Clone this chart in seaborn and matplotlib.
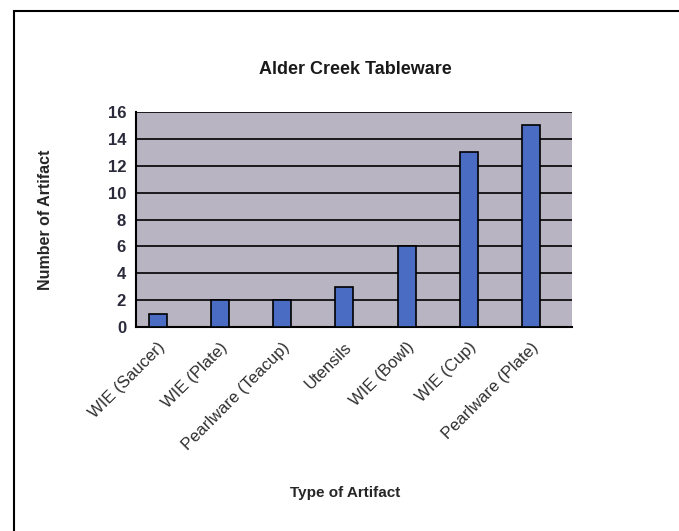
import pandas as pd
import seaborn as sns
import matplotlib.pyplot as plt
from matplotlib.patches import Rectangle
from matplotlib.ticker import FixedLocator

# Data
artifact_types = ["WIE (Saucer)", "WIE (Plate)", "Pearlware (Teacup)", "Utensils",
                  "WIE (Bowl)", "WIE (Cup)", "Pearlware (Plate)"]
counts = [1, 2, 2, 3, 6, 13, 15]

df = pd.DataFrame({"Type": artifact_types, "Count": counts})

sns.set_style("white")
plt.rcParams["font.family"] = ["Liberation Sans", "DejaVu Sans"]

fig = plt.figure(figsize=(6.79, 5.31), dpi=100)
ax = fig.add_axes([0.2, 0.384, 0.642, 0.405])

sns.barplot(data=df, x="Type", y="Count", color="#4a6cc2", width=0.29,
            edgecolor="black", linewidth=1.2, saturation=1, ax=ax, zorder=3)

ax.set_facecolor("#b8b4c2")
ax.set_ylim(0, 16)
ax.set_yticks(range(0, 17, 2))
ax.set_xlim(-0.35, 6.65)
ax.yaxis.grid(True, color="black", linewidth=1.2, zorder=0)
ax.set_axisbelow(True)

for side in ["top", "right"]:
    ax.spines[side].set_visible(False)
for side in ["left", "bottom"]:
    ax.spines[side].set_linewidth(1.5)
    ax.spines[side].set_color("black")

# category boundary ticks, labels under the bars
ax.xaxis.set_minor_locator(FixedLocator([i - 0.35 for i in range(8)]))
ax.tick_params(axis="x", which="major", length=0, pad=9)
ax.tick_params(axis="x", which="minor", length=5, width=1.2, direction="out", color="black")
ax.tick_params(axis="y", length=5, width=1.2, direction="out", color="black", pad=2)

ax.set_xticks(range(len(artifact_types)))
ax.set_xticklabels(artifact_types, rotation=45, ha="right", rotation_mode="anchor",
                   fontsize=12, color="#2e2e2e")
for lbl in ax.get_yticklabels():
    lbl.set_fontsize(12)
    lbl.set_fontweight("bold")
    lbl.set_color("#2a2a3a")

ax.set_xlabel("Type of Artifact", fontsize=11, fontweight="bold")
ax.set_ylabel("Number of Artifact", fontsize=11.5, fontweight="bold")
ax.xaxis.set_label_coords(0.48, -0.74)
ax.yaxis.set_label_coords(-0.19, 0.5)
fig.text(0.523, 0.869, "Alder Creek Tableware", ha="center", va="center",
         fontsize=13, fontweight="bold", color="#1a1a1a")

# outer chart border
fig.patches.append(Rectangle((0.021, -0.05), 1.0, 1.03, transform=fig.transFigure,
                             fill=False, edgecolor="black", linewidth=1.5))

fig.savefig("out.png", dpi=100)
